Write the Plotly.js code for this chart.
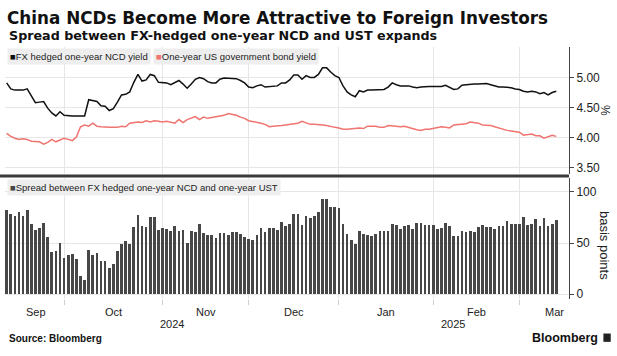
<!DOCTYPE html>
<html>
<head>
<meta charset="utf-8">
<script src="https://cdn.plot.ly/plotly-3.0.1.min.js"></script>
<style>
  html, body { margin: 0; padding: 0; background: #fff; }
  #chart { width: 617px; height: 356px; }
</style>
</head>
<body>
<div id="chart"></div>
<script>
// FX hedged one-year NCD yield (%), daily, Sep 2024 - Mar 2025
const ncdYield = [
  4.91, 4.81, 4.79, 4.79, 4.79, 4.81, 4.69, 4.58, 4.59, 4.60, 4.49, 4.41, 4.36, 4.43, 4.37,
  4.36, 4.36, 4.36, 4.36, 4.36, 4.63, 4.62, 4.60, 4.53, 4.52, 4.45, 4.48, 4.59, 4.71, 4.72,
  4.76, 4.92, 5.05, 4.94, 4.96, 5.05, 5.03, 4.92, 4.92, 4.91, 4.88, 4.92, 4.95, 4.89, 4.82,
  4.89, 4.97, 5.00, 4.98, 4.93, 4.91, 4.91, 4.97, 4.99, 4.99, 4.99, 4.98, 4.95, 4.91, 4.84,
  4.83, 4.86, 4.88, 4.84, 4.85, 4.85, 4.86, 4.91, 4.91, 4.96, 5.04, 5.04, 4.97, 5.03, 5.00,
  5.00, 5.05, 5.16, 5.16, 5.09, 5.03, 5.00, 4.86, 4.76, 4.71, 4.68, 4.78, 4.76, 4.79, 4.79,
  4.79, 4.79, 4.80, 4.84, 4.91, 4.88, 4.86, 4.86, 4.86, 4.84, 4.83, 4.84, 4.85, 4.85, 4.85,
  4.85, 4.85, 4.87, 4.84, 4.80, 4.81, 4.87, 4.88, 4.89, 4.89, 4.89, 4.90, 4.90, 4.88, 4.86,
  4.84, 4.84, 4.84, 4.83, 4.81, 4.80, 4.77, 4.76, 4.77, 4.76, 4.73, 4.75, 4.71, 4.75, 4.77
];
// One-year US government bond yield (%)
const ustYield = [
  4.07, 4.02, 3.99, 3.97, 3.98, 3.97, 3.94, 3.93, 3.93, 3.89, 3.92, 3.97, 3.93, 3.96, 3.99,
  3.97, 3.95, 4.01, 4.18, 4.21, 4.19, 4.24, 4.19, 4.18, 4.17, 4.17, 4.17, 4.17, 4.19, 4.18,
  4.24, 4.25, 4.26, 4.25, 4.28, 4.26, 4.28, 4.27, 4.26, 4.27, 4.26, 4.24, 4.30, 4.25, 4.30,
  4.32, 4.35, 4.30, 4.34, 4.32, 4.33, 4.34, 4.36, 4.37, 4.40, 4.39, 4.37, 4.34, 4.32, 4.28,
  4.27, 4.26, 4.24, 4.22, 4.18, 4.19, 4.19, 4.20, 4.21, 4.22, 4.24, 4.24, 4.27, 4.25, 4.22,
  4.22, 4.22, 4.21, 4.20, 4.18, 4.17, 4.16, 4.14, 4.14, 4.15, 4.16, 4.16, 4.15, 4.19, 4.19,
  4.19, 4.17, 4.17, 4.20, 4.19, 4.19, 4.18, 4.19, 4.17, 4.14, 4.13, 4.12, 4.14, 4.14, 4.15,
  4.17, 4.18, 4.17, 4.16, 4.21, 4.22, 4.23, 4.23, 4.26, 4.25, 4.24, 4.21, 4.21, 4.20, 4.18,
  4.16, 4.13, 4.12, 4.11, 4.10, 4.09, 4.04, 4.05, 4.06, 4.03, 4.03, 3.99, 4.01, 4.04, 4.02
];
// Spread between FX hedged one-year NCD and one-year UST (basis points)
const spreadBp = [
  82, 78, 76.5, 80.6, 76.5, 82, 69, 62.5, 64.4, 70, 56, 41, 42, 50.5, 35.5,
  38.4, 39.4, 34.6, 18, 13.7, 43, 38, 40, 32.7, 32.7, 25.4, 30, 42, 49, 52,
  49, 66, 77, 66.7, 65.4, 75, 75, 63, 64.4, 64, 62, 66.7, 62, 63, 50.5,
  62, 61, 69, 59.4, 57.5, 57.5, 55, 59.4, 60, 57.8, 60.3, 61, 59, 56, 54,
  52.7, 57.8, 65, 60.6, 64.8, 64.4, 63, 70.5, 66.3, 69, 78, 78, 67.3, 76, 74.3,
  76, 80.3, 93, 93, 85.4, 84.8, 83.8, 68.6, 58.4, 53.3, 48.6, 62, 59, 57.8, 57,
  59, 61.3, 61.3, 61.3, 69, 67.6, 63.8, 66.7, 67.6, 64, 69.5, 70, 67.3, 67.3, 67.6,
  64, 64.8, 69.5, 66.7, 56.8, 57, 62.2, 60.3, 61.3, 61, 65.4, 67.3, 66, 66, 63.5,
  66.7, 67, 71.4, 68.6, 68.9, 68.6, 75, 67.6, 68.6, 73.3, 66.3, 74.6, 66.3, 68.6, 72
];
// Month boundaries (observation index of first day of month) and labels
const monthStartIdx = [14, 38, 59, 81, 104, 125];
const monthLabels = ['Sep', 'Oct', 'Nov', 'Dec', 'Jan', 'Feb', 'Mar'];
const monthLabelIdx = [7.2, 26, 48.5, 70, 92.6, 114.6, 133.6];
const yearLabels = ['2024', '2025'];
const yearLabelIdx = [40.3, 108.9];
const yieldTicks = [3.5, 4.0, 4.5, 5.0];
const spreadTicks = [0, 50, 100];

const obsIdx = spreadBp.map((_, i) => i);

const FONT = 'Liberation Sans, Arial, sans-serif';
const HEAD = 'DejaVu Sans, Liberation Sans, sans-serif';
const BLACK = '#111111';
const RED = '#f07470';
const BAR = '#474747';
const GRID = '#e6e6e6';

const traces = [
  { type: 'scatter', mode: 'lines', x: obsIdx, y: ncdYield, xaxis: 'x', yaxis: 'y',
    line: { color: BLACK, width: 1.5 }, name: 'FX hedged one-year NCD yield', showlegend: false, hoverinfo: 'skip' },
  { type: 'scatter', mode: 'lines', x: obsIdx, y: ustYield, xaxis: 'x', yaxis: 'y',
    line: { color: RED, width: 1.5 }, name: 'One-year US government bond yield', showlegend: false, hoverinfo: 'skip' },
  { type: 'bar', x: obsIdx, y: spreadBp, xaxis: 'x', yaxis: 'y2', width: 0.66,
    marker: { color: BAR, line: { width: 0 } }, name: 'Spread', showlegend: false, hoverinfo: 'skip' }
];

const annotations = [];
monthLabels.forEach((m, i) => annotations.push({
  text: m, x: monthLabelIdx[i], xref: 'x', y: -0.052, yref: 'paper',
  showarrow: false, xanchor: 'center', yanchor: 'middle', font: { family: FONT, size: 11, color: '#222' }
}));
yearLabels.forEach((yr, i) => annotations.push({
  text: yr, x: yearLabelIdx[i], xref: 'x', y: -0.1, yref: 'paper',
  showarrow: false, xanchor: 'center', yanchor: 'middle', font: { family: FONT, size: 11, color: '#222' }
}));
annotations.push(
  { text: 'Spread between FX-hedged one-year NCD and UST expands', xref: 'paper', x: 0.0035, y: 1.045, yref: 'paper',
    showarrow: false, xanchor: 'left', yanchor: 'middle', font: { family: HEAD, size: 12.7, color: '#111', weight: 'bold' } },
  { text: '<span style="color:' + BLACK + '">■</span>FX hedged one-year NCD yield', xref: 'paper', x: 0.0035, y: 0.962, yref: 'paper',
    showarrow: false, xanchor: 'left', yanchor: 'middle', bgcolor: '#eeeeee', borderpad: 2,
    font: { family: FONT, size: 9.5, color: '#222' } },
  { text: '<span style="color:' + RED + '">■</span>One-year US government bond yield', xref: 'paper', x: 0.263, y: 0.962, yref: 'paper',
    showarrow: false, xanchor: 'left', yanchor: 'middle', bgcolor: '#eeeeee', borderpad: 2,
    font: { family: FONT, size: 9.5, color: '#222' } },
  { text: '<span style="color:' + BAR + '">■</span>Spread between FX hedged one-year NCD and one-year UST', xref: 'paper', x: 0.0035, y: 0.442, yref: 'paper',
    showarrow: false, xanchor: 'left', yanchor: 'middle', bgcolor: '#eeeeee', borderpad: 2,
    font: { family: FONT, size: 9.5, color: '#222' } },
  { text: '%', xref: 'paper', x: 1.064, y: 0.75, yref: 'paper', textangle: 90,
    showarrow: false, xanchor: 'center', yanchor: 'middle', font: { family: FONT, size: 12, color: '#222' } },
  { text: 'basis points', xref: 'paper', x: 1.064, y: 0.214, yref: 'paper', textangle: 90,
    showarrow: false, xanchor: 'center', yanchor: 'middle', font: { family: FONT, size: 13, color: '#222' } },
  { text: 'Source: Bloomberg', xref: 'paper', x: 0.0035, y: -0.155, yref: 'paper',
    showarrow: false, xanchor: 'left', yanchor: 'middle', font: { family: FONT, size: 10, color: '#111', weight: 'bold' } },
  { text: 'Bloomberg', xref: 'paper', x: 1.055, y: -0.155, yref: 'paper',
    showarrow: false, xanchor: 'right', yanchor: 'middle', font: { family: FONT, size: 12.5, color: '#111', weight: 'bold' } }
);

const layout = {
  width: 617, height: 356,
  margin: { l: 5, r: 48, t: 47, b: 57, pad: 0 },
  paper_bgcolor: '#ffffff', plot_bgcolor: '#ffffff',
  font: { family: FONT, size: 11, color: '#222' },
  showlegend: false,
  bargap: 0,
  title: { text: 'China NCDs Become More Attractive to Foreign Investors', font: { family: HEAD, size: 16.8, color: '#111', weight: 'bold' },
           xref: 'container', x: 7 / 617, xanchor: 'left', yref: 'container', y: 1 - 18.5 / 356, yanchor: 'middle' },
  xaxis: {
    domain: [0, 1], anchor: 'y2', range: [-0.41, 137.1],
    tickvals: monthStartIdx, showticklabels: false,
    ticks: 'outside', ticklen: 5, tickcolor: '#cfcfcf', tickwidth: 1,
    showgrid: true, gridcolor: GRID, gridwidth: 1, zeroline: false, showline: false, fixedrange: true
  },
  yaxis: {
    domain: [0.496, 1], anchor: 'x', side: 'right', range: [3.394, 5.507],
    tickvals: yieldTicks, tickformat: '.2f',
    ticks: 'outside', ticklen: 4, tickcolor: '#444', showline: true, linecolor: '#444', linewidth: 1,
    showgrid: true, gridcolor: GRID, zeroline: false, tickfont: { family: FONT, size: 12, color: '#222' }, fixedrange: true
  },
  yaxis2: {
    domain: [0, 0.48], anchor: 'x', side: 'right', range: [-4.6, 113.4],
    tickvals: spreadTicks,
    ticks: 'outside', ticklen: 4, tickcolor: '#444', showline: true, linecolor: '#444', linewidth: 1,
    showgrid: true, gridcolor: GRID, zeroline: false, tickfont: { family: FONT, size: 12, color: '#222' }, fixedrange: true
  },
  shapes: [
    { type: 'line', xref: 'paper', yref: 'paper', x0: -0.01, x1: 1.0, y0: 0.488, y1: 0.488,
      line: { color: '#3a3a3a', width: 3 } },
    { type: 'rect', xref: 'paper', yref: 'paper', x0: 1.061, x1: 1.074, y0: -0.137, y1: -0.17,
      fillcolor: '#222', line: { width: 0 } }
  ],
  annotations: annotations
};

Plotly.newPlot('chart', traces, layout, { displayModeBar: false, staticPlot: true });
</script>
</body>
</html>
